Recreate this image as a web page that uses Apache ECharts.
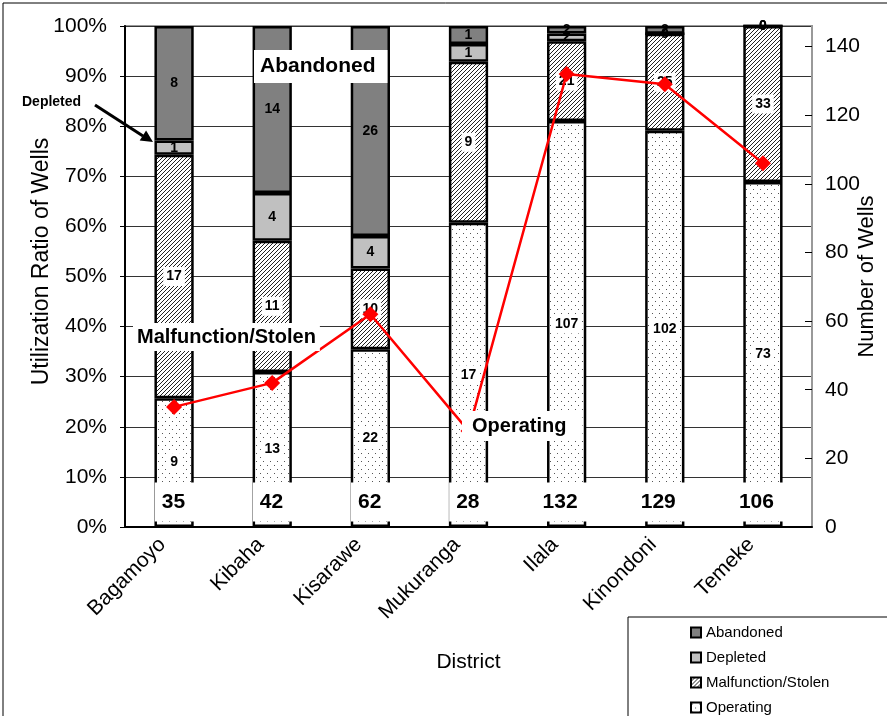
<!DOCTYPE html>
<html>
<head>
<meta charset="utf-8">
<script src="https://cdn.jsdelivr.net/npm/echarts@6/dist/echarts.min.js"></script>
<style>
  html, body { margin: 0; padding: 0; background: #fff; }
  #chart { width: 887px; height: 716px; }
</style>
</head>
<body>
<div id="chart"></div>
<script>
// well counts per district
const districts = ['Bagamoyo', 'Kibaha', 'Kisarawe', 'Mukuranga', 'Ilala', 'Kinondoni', 'Temeke']
const operating = [9, 13, 22, 17, 107, 102, 73]
const malfunction = [17, 11, 10, 9, 21, 25, 33]
const depleted = [1, 4, 4, 1, 2, 0, 0]
const abandoned = [8, 14, 26, 1, 2, 2, 0]
const totals = [35, 42, 62, 28, 132, 129, 106]
const wellTicks = [0, 20, 40, 60, 80, 100, 120, 140]

const FONT = 'Arial, "Liberation Sans", sans-serif'

// fill patterns like the excel ones
function dotPattern () {
  const c = document.createElement('canvas')
  c.width = 7; c.height = 8
  const ctx = c.getContext('2d')
  ctx.fillStyle = '#fff'
  ctx.fillRect(0, 0, 7, 8)
  ctx.fillStyle = '#555'
  ctx.fillRect(1, 1, 1, 1)
  ctx.fillRect(4, 5, 1, 1)
  return c
}
function hatchPattern () {
  const c = document.createElement('canvas')
  c.width = 8; c.height = 8
  const ctx = c.getContext('2d')
  ctx.fillStyle = '#fff'
  ctx.fillRect(0, 0, 8, 8)
  ctx.strokeStyle = '#222'
  ctx.lineWidth = 1
  for (let k = -8; k <= 12; k += 4) {
    ctx.beginPath()
    ctx.moveTo(k, 8)
    ctx.lineTo(k + 8, 0)
    ctx.stroke()
  }
  return c
}

function pct (arr) {
  return arr.map((v, i) => ({ value: v / totals[i] * 100, count: v }))
}

const segLabel = {
  show: true,
  position: 'inside',
  color: '#000',
  fontFamily: FONT,
  fontWeight: 'bold',
  fontSize: 14,
  formatter: p => p.data.count
}
const boxLabel = Object.assign({}, segLabel, { backgroundColor: '#fff', padding: [3, 3, 2, 3] })

const barBorder = { borderColor: '#000', borderWidth: 2.5 }

const chart = echarts.init(document.getElementById('chart'))

chart.setOption({
  backgroundColor: '#fff',
  animation: false,
  grid: {
    left: 125, right: 75, top: 26, bottom: 189,
    outerBoundsMode: 'none',
    show: true, borderColor: '#999', borderWidth: 2
  },
  legend: {
    orient: 'vertical',
    left: 628,
    top: 617,
    height: 140,
    data: ['Abandoned', 'Depleted', 'Malfunction/Stolen', 'Operating'],
    icon: 'rect',
    itemWidth: 10,
    itemHeight: 10,
    itemGap: 10,
    backgroundColor: '#fff',
    borderColor: '#000',
    borderWidth: 1,
    padding: [8, 90, 20, 62],
    textStyle: { fontFamily: FONT, fontSize: 15, color: '#000' }
  },
  xAxis: {
    type: 'category',
    data: districts,
    name: 'District',
    nameLocation: 'middle',
    nameGap: 125,
    nameMoveOverlap: false,
    nameTextStyle: { fontFamily: FONT, fontSize: 21, color: '#000' },
    axisLine: { lineStyle: { color: '#000', width: 2 } },
    axisTick: { inside: true, length: 6, lineStyle: { color: '#000' } },
    axisLabel: {
      rotate: 45, margin: 26, verticalAlign: 'bottom', padding: [0, 0, 6, 0],
      fontFamily: FONT, fontSize: 21, color: '#000'
    }
  },
  yAxis: [{
    type: 'value',
    min: 0,
    max: 100,
    interval: 10,
    name: 'Utilization Ratio of Wells',
    nameLocation: 'middle',
    nameRotate: 90,
    nameGap: 72,
    nameMoveOverlap: false,
    nameTextStyle: { fontFamily: FONT, fontSize: 23, color: '#000', padding: [0, 0, 0, 30] },
    axisLine: { show: true, lineStyle: { color: '#000', width: 2 } },
    axisTick: { show: true, length: 5, lineStyle: { color: '#000' } },
    axisLabel: { formatter: '{value}%', margin: 18, fontFamily: FONT, fontSize: 21, color: '#000' },
    splitLine: { lineStyle: { color: '#333', width: 1 } }
  }, {
    type: 'value',
    min: 0,
    max: 146,
    name: 'Number of Wells',
    nameLocation: 'middle',
    nameRotate: 90,
    nameGap: 44,
    nameMoveOverlap: false,
    nameTextStyle: { fontFamily: FONT, fontSize: 22, color: '#000' },
    axisLine: { show: true, lineStyle: { color: '#999', width: 2 } },
    axisTick: { show: true, inside: true, length: 7, customValues: wellTicks, lineStyle: { color: '#000' } },
    axisLabel: { customValues: wellTicks, margin: 13, fontFamily: FONT, fontSize: 21, color: '#000' },
    splitLine: { show: false }
  }],
  series: [{
    name: 'Operating',
    type: 'bar',
    stack: 'wells',
    barWidth: '40%',
    itemStyle: Object.assign({ color: { image: dotPattern(), repeat: 'repeat' } }, barBorder),
    label: boxLabel,
    data: pct(operating)
  }, {
    name: 'Malfunction/Stolen',
    type: 'bar',
    stack: 'wells',
    itemStyle: Object.assign({ color: { image: hatchPattern(), repeat: 'repeat' } }, barBorder),
    label: boxLabel,
    data: pct(malfunction)
  }, {
    name: 'Depleted',
    type: 'bar',
    stack: 'wells',
    itemStyle: Object.assign({ color: '#c0c0c0' }, barBorder),
    label: segLabel,
    data: pct(depleted)
  }, {
    name: 'Abandoned',
    type: 'bar',
    stack: 'wells',
    itemStyle: Object.assign({ color: '#808080' }, barBorder),
    label: segLabel,
    data: pct(abandoned)
  }, {
    // total number labels near the bottom of each bar
    name: 'totalLabel',
    type: 'scatter',
    symbolSize: 1,
    itemStyle: { color: '#fff', opacity: 1 },
    z: 6,
    label: {
      show: true,
      position: [21.5, -21],
      align: 'right',
      verticalAlign: 'top',
      backgroundColor: '#fff',
      padding: [9, 10, 9, 7],
      fontFamily: FONT,
      fontWeight: 'bold',
      fontSize: 21,
      color: '#000',
      formatter: p => p.data.total
    },
    data: totals.map(t => ({ value: 4.6, total: t }))
  }, {
    name: 'Number of Wells',
    type: 'line',
    yAxisIndex: 1,
    symbol: 'diamond',
    symbolSize: 16,
    z: 5,
    lineStyle: { color: '#ff0000', width: 2.5 },
    itemStyle: { color: '#ff0000' },
    data: totals
  }],
  graphic: [
    { type: 'rect', shape: { x: 3, y: 3, width: 900, height: 800 }, style: { fill: null, stroke: '#000', lineWidth: 1 }, z: 100 },
    { type: 'text', x: 254, y: 50, z: 100, style: { text: 'Abandoned', font: 'bold 21px ' + FONT, fill: '#000', backgroundColor: '#fff', padding: [6, 12, 6, 6] } },
    { type: 'text', x: 133, y: 323, z: 100, style: { text: 'Malfunction/Stolen', font: 'bold 20px ' + FONT, fill: '#000', backgroundColor: '#fff', padding: [4, 4, 4, 4] } },
    { type: 'text', x: 462, y: 411, z: 100, style: { text: 'Operating', font: 'bold 20px ' + FONT, fill: '#000', backgroundColor: '#fff', padding: [5, 16, 5, 10] } },
    { type: 'text', x: 22, y: 95, z: 100, style: { text: 'Depleted', font: 'bold 14px ' + FONT, fill: '#000' } },
    { type: 'line', z: 100, shape: { x1: 95, y1: 105, x2: 143, y2: 136 }, style: { stroke: '#000', lineWidth: 3 } },
    { type: 'polygon', z: 100, shape: { points: [[153, 142], [139.7, 140.6], [146.1, 130.4]] }, style: { fill: '#000' } }
  ]
})
</script>
</body>
</html>
